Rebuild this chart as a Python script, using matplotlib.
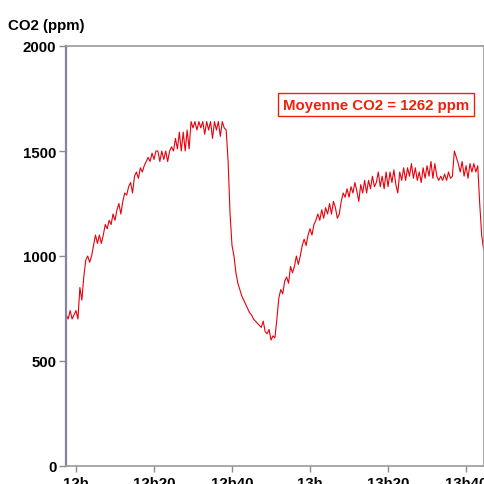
import matplotlib.pyplot as plt
import numpy as np

plt.rcParams['font.family'] = ['Liberation Sans', 'DejaVu Sans']

# minutes after 12h, one reading every 30 s
t_start = -2.5
t_step = 0.5
co2 = [
    720, 700, 740, 700, 720,
    740, 700, 850, 790, 900, 980, 1000, 970, 1000, 1050,
    1100, 1060, 1100, 1060, 1100, 1150, 1130, 1170, 1150, 1200,
    1170, 1220, 1250, 1200, 1260, 1300, 1290, 1330, 1350, 1300,
    1380, 1400, 1370, 1420, 1400, 1430, 1450, 1470, 1450, 1490,
    1460, 1500, 1500, 1450, 1500, 1460, 1500, 1450, 1500, 1520,
    1500, 1560, 1510, 1590, 1500, 1590, 1500, 1600, 1510, 1640,
    1610, 1640, 1600, 1640, 1610, 1640, 1580, 1640, 1600, 1640,
    1560, 1640, 1600, 1640, 1570, 1640, 1610, 1600, 1450, 1200,
    1050, 1000, 920, 870, 840, 810, 790, 770, 750, 730,
    720, 700, 690, 680, 670, 660, 690, 640, 630, 650,
    600, 620, 610, 700, 800, 840, 820, 880, 900, 870,
    950, 920, 950, 1000, 960, 1000, 1050, 1080, 1050, 1100,
    1130, 1100, 1150, 1170, 1200, 1170, 1220, 1180, 1230, 1200,
    1250, 1200, 1260, 1230, 1180, 1200, 1260, 1300, 1280, 1320,
    1280, 1330, 1300, 1350, 1310, 1260, 1340, 1300, 1360, 1300,
    1360, 1320, 1380, 1330, 1350, 1400, 1330, 1380, 1320, 1400,
    1330, 1400, 1350, 1410, 1340, 1300, 1400, 1360, 1420, 1360,
    1420, 1380, 1440, 1370, 1420, 1360, 1400, 1350, 1420, 1370,
    1430, 1380, 1450, 1370, 1440, 1380, 1360, 1380, 1360, 1390,
    1360, 1400, 1370, 1380, 1500, 1470, 1440, 1400, 1450, 1380,
    1430, 1370, 1440, 1400, 1440, 1400, 1430, 1250, 1100, 1030,
]
minutes = t_start + t_step * np.arange(len(co2))

tick_pos = [0, 20, 40, 60, 80, 100]
tick_labels = ['12h', '12h20', '12h40', '13h', '13h20', '13h40']
y_ticks = [0, 500, 1000, 1500, 2000]
moyenne = 1262

fig = plt.figure(figsize=(4.84, 4.85), dpi=100)
ax = fig.add_axes([66 / 484, 18 / 485, 1 - 66 / 484, 420 / 485])

ax.plot(minutes, co2, color='#e8000b', linewidth=0.8)

ax.set_xlim(-2.56, 104.6)
ax.set_ylim(0, 2000)
ax.set_xticks(tick_pos)
ax.set_xticklabels(tick_labels)
ax.set_yticks(y_ticks)

for lab in ax.get_xticklabels() + ax.get_yticklabels():
    lab.set_fontweight('bold')
    lab.set_fontsize(10.8)
ax.tick_params(axis='y', length=5, width=1, color='#8a8a9a', pad=2)
ax.tick_params(axis='x', length=4, width=1, color='#8a8a9a', pad=3)

ax.spines['left'].set_color('#8484a0')
ax.spines['left'].set_linewidth(1.6)
for s in ['top', 'bottom', 'right']:
    ax.spines[s].set_color('#9a9a9a')
    ax.spines[s].set_linewidth(1.2)

fig.text(8 / 484, 1 - 26 / 485, 'CO2 (ppm)', fontsize=10.8, fontweight='bold',
         ha='left', va='center')

ax.text(77, 1721, 'Moyenne CO2 = %d ppm' % moyenne, color='#f0200a',
        fontsize=10.8, fontweight='bold', ha='center', va='center',
        bbox=dict(boxstyle='square,pad=0.32', facecolor='white',
                  edgecolor='#f0200a', linewidth=1))

fig.savefig('out.png', dpi=100)
